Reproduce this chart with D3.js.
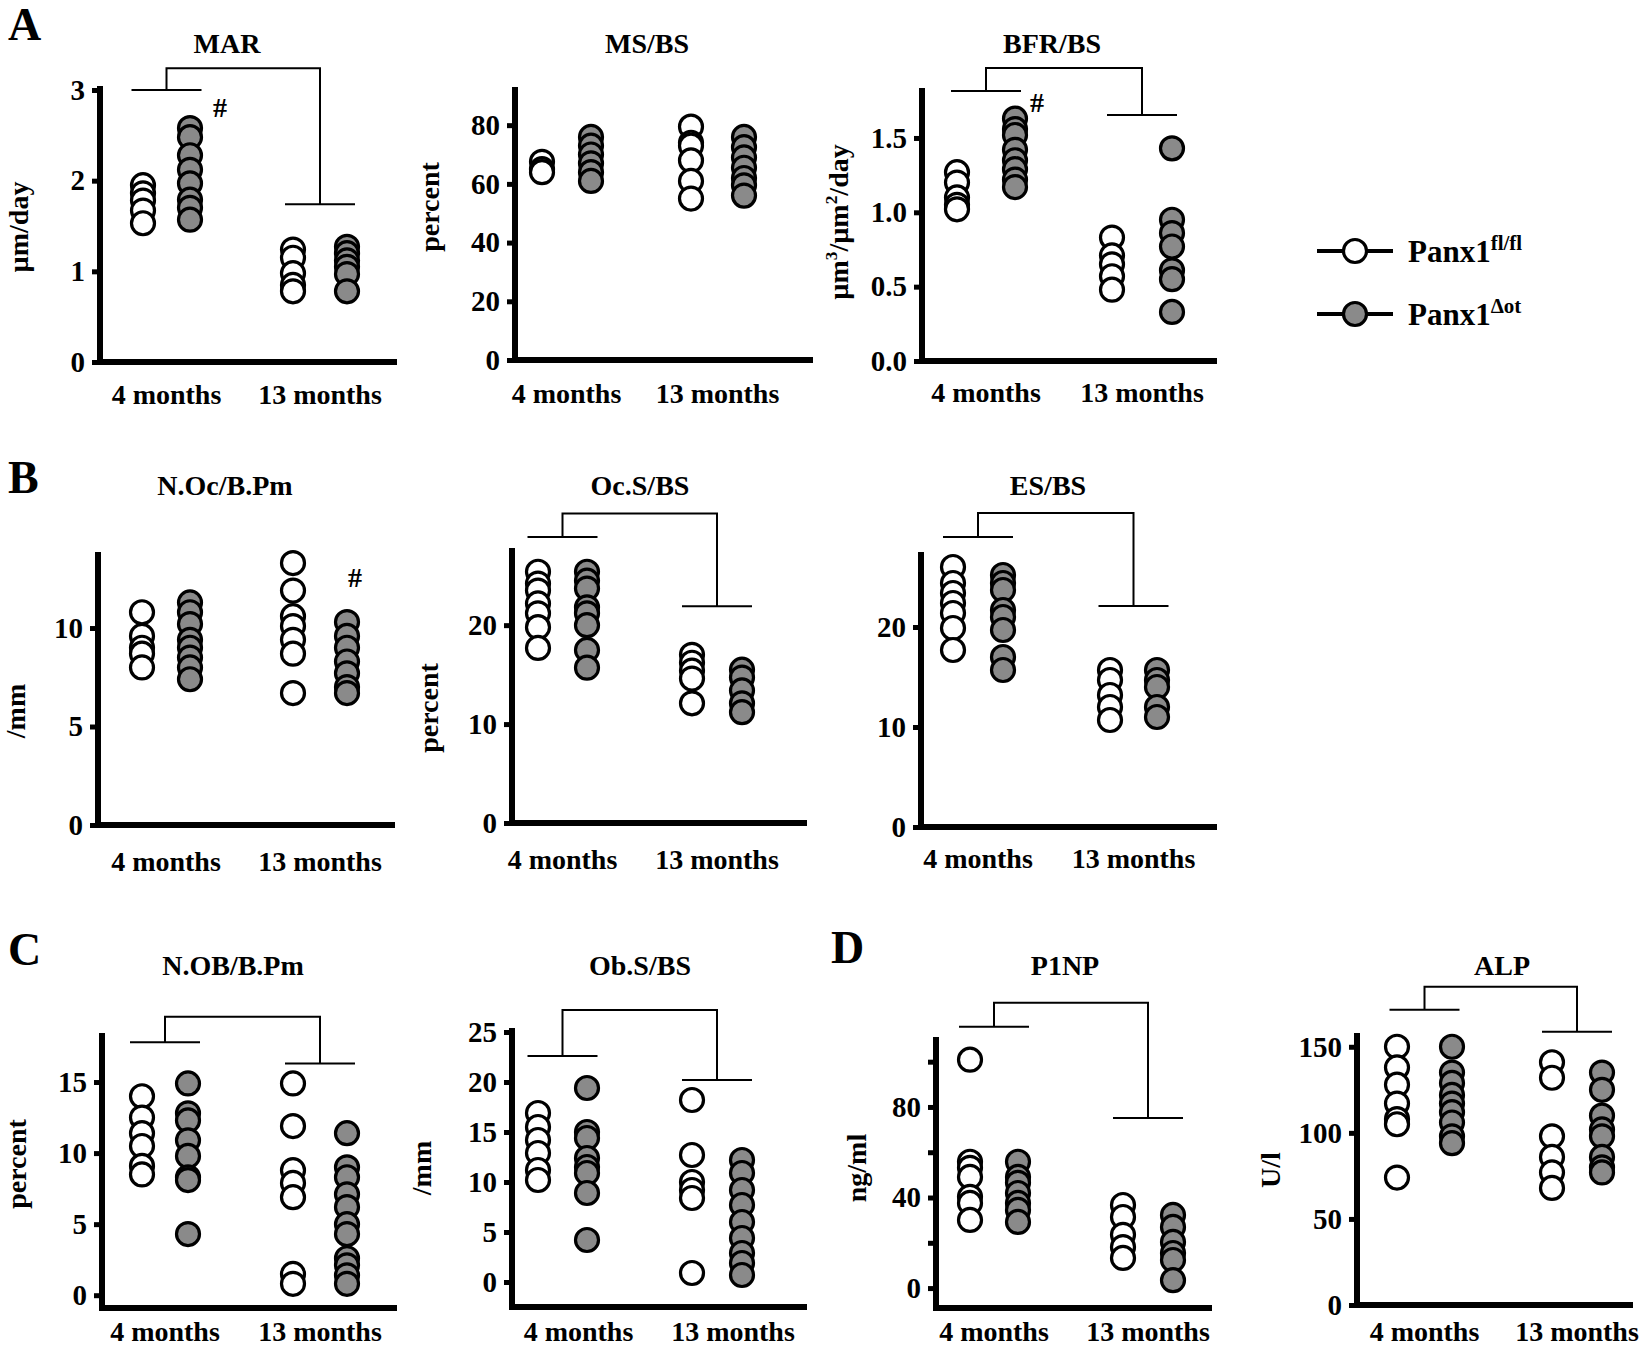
<!DOCTYPE html>
<html><head><meta charset="utf-8">
<script src="https://cdn.jsdelivr.net/npm/d3@7"></script>
<style>
body{margin:0;background:#fff}
text{font-family:'Liberation Serif','Times New Roman',serif;font-weight:bold;fill:#000}
</style>
</head><body><svg id="c" width="1643" height="1347"></svg>
<script>
// ---------- categories / series ----------
const groups = ["4 months", "13 months"];
const seriesNames = ["Panx1", "Panx1"];
const seriesSup = ["fl/fl", "\u0394ot"];
const colKeys = ["fl-4", "ko-4", "fl-13", "ko-13"];

// ---------- values ----------
// MAR (µm/day)
const marFl4 = [1.95, 1.86, 1.78, 1.67, 1.53];
const marKo4 = [2.58, 2.48, 2.28, 2.12, 1.97, 1.79, 1.70, 1.57];
const marFl13 = [1.24, 1.15, 0.98, 0.85, 0.78];
const marKo13 = [1.27, 1.20, 1.12, 1.05, 0.97, 0.78];
const marTicks = [0, 1, 2, 3];
const marTickLabels = ["0", "1", "2", "3"];
// MS/BS (percent)
const msFl4 = [67.5, 65, 64];
const msKo4 = [76, 73, 70, 67, 64, 61];
const msFl13 = [79.5, 74, 73, 68, 61, 55];
const msKo13 = [76, 72.5, 69, 65.5, 62, 59.5, 56];
const msTicks = [0, 20, 40, 60, 80];
const msTickLabels = ["0", "20", "40", "60", "80"];
// BFR/BS (µm3/µm2/day)
const bfrFl4 = [1.27, 1.20, 1.10, 1.05, 1.02];
const bfrKo4 = [1.63, 1.56, 1.52, 1.42, 1.35, 1.29, 1.22, 1.17];
const bfrFl13 = [0.83, 0.71, 0.65, 0.57, 0.48];
const bfrKo13 = [1.43, 0.95, 0.86, 0.77, 0.61, 0.55, 0.33];
const bfrTicks = [0, 0.5, 1.0, 1.5];
const bfrTickLabels = ["0.0", "0.5", "1.0", "1.5"];
// N.Oc/B.Pm (/mm)
const nocFl4 = [10.8, 9.6, 9.0, 8.7, 8.0];
const nocKo4 = [11.3, 10.8, 10.2, 9.4, 9.0, 8.5, 8.0, 7.4];
const nocFl13 = [13.3, 11.9, 10.6, 10.1, 9.4, 8.7, 6.7];
const nocKo13 = [10.3, 9.6, 9.0, 8.3, 7.7, 7.0, 6.7];
const nocTicks = [0, 5, 10];
const nocTickLabels = ["0", "5", "10"];
// Oc.S/BS (percent)
const ocsFl4 = [25.4, 24.2, 23.5, 22.2, 21.2, 19.8, 17.7];
const ocsKo4 = [25.4, 24.5, 23.7, 21.8, 21.2, 20.0, 17.5, 15.7];
const ocsFl13 = [17.0, 16.2, 15.4, 14.6, 12.1];
const ocsKo13 = [15.5, 14.7, 13.4, 12.1, 11.2];
const ocsTicks = [0, 10, 20];
const ocsTickLabels = ["0", "10", "20"];
// ES/BS
const esFl4 = [26.0, 24.4, 23.4, 22.4, 21.4, 19.9, 17.7];
const esKo4 = [25.2, 24.4, 23.7, 21.7, 21.0, 19.7, 17.0, 15.7];
const esFl13 = [15.7, 14.7, 13.2, 12.0, 10.7];
const esKo13 = [15.7, 14.7, 14.0, 12.0, 11.0];
const esTicks = [0, 10, 20];
const esTickLabels = ["0", "10", "20"];
// N.OB/B.Pm (percent)
const nobFl4 = [14.0, 12.5, 11.4, 10.5, 9.1, 8.5];
const nobKo4 = [14.9, 12.8, 12.3, 10.9, 9.8, 8.3, 8.1, 4.3];
const nobFl13 = [14.9, 11.9, 8.8, 7.9, 6.9, 1.5, 0.8];
const nobKo13 = [11.4, 9.0, 8.3, 7.1, 6.2, 5.0, 4.3, 2.6, 2.1, 1.4, 0.8];
const nobTicks = [0, 5, 10, 15];
const nobTickLabels = ["0", "5", "10", "15"];
// Ob.S/BS (/mm)
const obsFl4 = [16.9, 15.5, 14.2, 12.9, 11.2, 10.2];
const obsKo4 = [19.4, 15.0, 14.4, 12.4, 11.5, 10.9, 8.9, 4.2];
const obsFl13 = [18.2, 12.7, 10.0, 9.2, 8.4, 0.9];
const obsKo13 = [12.2, 10.9, 9.2, 7.7, 6.0, 4.4, 2.9, 1.9, 0.7];
const obsTicks = [0, 5, 10, 15, 20, 25];
const obsTickLabels = ["0", "5", "10", "15", "20", "25"];
// P1NP (ng/ml)
const p1Fl4 = [100.9, 55.8, 53.1, 49.1, 40.3, 37.6, 30.1];
const p1Ko4 = [55.8, 49.1, 46.5, 42.0, 37.6, 34.5, 29.2];
const p1Fl13 = [36.7, 31.4, 23.5, 18.1, 13.3];
const p1Ko13 = [32.3, 27.0, 20.4, 15.5, 12.4, 3.5];
const p1Ticks = [0, 20, 40, 60, 80, 100];
const p1TickLabels = ["0", "", "40", "", "80", ""];
// ALP (U/l)
const alpFl4 = [150, 138, 128, 117, 108, 105, 74];
const alpKo4 = [150, 135, 129, 122, 117, 112, 106, 98, 94];
const alpFl13 = [141, 132, 98, 86, 77, 68];
const alpKo13 = [135, 125, 110, 102, 98, 86, 80, 77];
const alpTicks = [0, 50, 100, 150];
const alpTickLabels = ["0", "50", "100", "150"];

// ---------- layout ----------
const panels = [
 {title:"MAR", tx:227, ty:53, yl:[["µm"],["/day"]], ylx:22, yly:227,
  ax:100, right:397, dom:[0,3.044], rng:[362,86], ticks:marTicks, tl:marTickLabels,
  cols:[143,190,293,347], data:[marFl4,marKo4,marFl13,marKo13], lby:404, lbs:0,
  br:{top:3.24,l:3.0,r:1.74}, hash:{col:1,dx:30,v:2.81}},
 {title:"MS/BS", tx:647, ty:53, yl:[["percent"]], ylx:433, yly:207,
  ax:515, right:813, dom:[0,93], rng:[360,87], ticks:msTicks, tl:msTickLabels,
  cols:[542,591,691,744], data:[msFl4,msKo4,msFl13,msKo13], lby:403, lbs:0},
 {title:"BFR/BS", tx:1052, ty:53, yl:[["µm"],["3","s"],["/µm"],["2","s"],["/day"]], ylx:842, yly:222,
  ax:922, right:1217, dom:[0,1.836], rng:[361,88], ticks:bfrTicks, tl:bfrTickLabels,
  cols:[957,1015,1112,1172], data:[bfrFl4,bfrKo4,bfrFl13,bfrKo13], lby:402, lbs:0,
  br:{top:1.97,l:1.816,r:1.655}, hash:{col:1,dx:22,v:1.74}},
 {title:"N.Oc/B.Pm", tx:225, ty:495, yl:[["/mm"]], ylx:19, yly:711,
  ax:98, right:395, dom:[0,13.86], rng:[825,552], ticks:nocTicks, tl:nocTickLabels,
  cols:[142,190,293,347], data:[nocFl4,nocKo4,nocFl13,nocKo13], lby:871, lbs:0,
  hash:{col:3,dx:8,v:12.6}},
 {title:"Oc.S/BS", tx:640, ty:495, yl:[["percent"]], ylx:432, yly:708,
  ax:512, right:807, dom:[0,27.8], rng:[823,548], ticks:ocsTicks, tl:ocsTickLabels,
  cols:[538,587,692,742], data:[ocsFl4,ocsKo4,ocsFl13,ocsKo13], lby:869, lbs:0,
  br:{top:31.3,l:28.9,r:21.9}},
 {title:"ES/BS", tx:1048, ty:495, yl:null,
  ax:921, right:1217, dom:[0,27.5], rng:[827,552], ticks:esTicks, tl:esTickLabels,
  cols:[953,1003,1110,1157], data:[esFl4,esKo4,esFl13,esKo13], lby:868, lbs:0,
  br:{top:31.4,l:29.0,r:22.1}},
 {title:"N.OB/B.Pm", tx:233, ty:975, yl:[["percent"]], ylx:20, yly:1164,
  ax:102, right:397, dom:[-0.9,18.45], rng:[1308,1033], ticks:nobTicks, tl:nobTickLabels,
  cols:[142,188,293,347], data:[nobFl4,nobKo4,nobFl13,nobKo13], lby:1341, lbs:0,
  br:{top:19.6,l:17.8,r:16.3}},
 {title:"Ob.S/BS", tx:640, ty:975, yl:[["/mm"]], ylx:425, yly:1168,
  ax:512, right:807, dom:[-2.5,25.4], rng:[1307,1028], ticks:obsTicks, tl:obsTickLabels,
  cols:[538,587,692,742], data:[obsFl4,obsKo4,obsFl13,obsKo13], lby:1341, lbs:16,
  br:{top:27.2,l:22.6,r:20.2}},
 {title:"P1NP", tx:1065, ty:975, yl:[["ng/ml"]], ylx:860, yly:1168,
  ax:936, right:1212, dom:[-8.8,110.9], rng:[1308,1037], ticks:p1Ticks, tl:p1TickLabels,
  cols:[970,1018,1123,1173], data:[p1Fl4,p1Ko4,p1Fl13,p1Ko13], lby:1341, lbs:0,
  br:{top:126,l:115.4,r:75.1}},
 {title:"ALP", tx:1502, ty:975, yl:[["U/l"]], ylx:1274, yly:1170,
  ax:1357, right:1633, dom:[0,158], rng:[1305,1033], ticks:alpTicks, tl:alpTickLabels,
  cols:[1397,1452,1552,1602], data:[alpFl4,alpKo4,alpFl13,alpKo13], lby:1341, lbs:0,
  br:{top:184.9,l:171.5,r:158.7}}
];
const letters = [["A",8,40],["B",8,493],["C",8,965],["D",831,963]];
const FONT = 28, TICKFONT = 29, R = 11.5, GRAY = "#8a8a8a";
const fills = ["#fff", GRAY, "#fff", GRAY];

const svg = d3.select("#c");
svg.append("rect").attr("width",1643).attr("height",1347).attr("fill","#fff");

letters.forEach(([t,x,y]) => svg.append("text").attr("x",x).attr("y",y)
  .attr("font-size",46).text(t));

function richText(sel, parts, size, supSize) {
  let raised = false;
  parts.forEach(p => {
    const ts = sel.append("tspan").text(p[0]);
    if (p[1] === "s") { ts.attr("font-size", supSize || size*0.62).attr("dy", -size*0.38); raised = true; }
    else { ts.attr("font-size", size); if (raised) { ts.attr("dy", size*0.38); raised = false; } }
  });
}

panels.forEach(p => {
  const g = svg.append("g");
  const y = d3.scaleLinear().domain(p.dom).range(p.rng);
  const x = d3.scaleOrdinal().domain(colKeys).range(p.cols);
  const bottom = p.rng[0];

  // y axis
  const yAxis = d3.axisLeft(y).tickValues(p.ticks)
     .tickFormat((d,i) => p.tl[i]).tickSize(8).tickSizeOuter(0).tickPadding(7);
  const ag = g.append("g").attr("transform",`translate(${p.ax},0)`).call(yAxis);
  ag.select(".domain").attr("stroke","#000").attr("stroke-width",6)
    .attr("d", `M0,${bottom}V${p.rng[1]}`);
  ag.selectAll(".tick line").attr("stroke","#000").attr("stroke-width",5);
  ag.selectAll(".tick text").attr("font-size",TICKFONT).attr("fill","#000")
    .attr("font-family","'Liberation Serif',serif").attr("font-weight","bold");

  // x axis line
  g.append("line").attr("x1",p.ax-3).attr("x2",p.right).attr("y1",bottom).attr("y2",bottom)
    .attr("stroke","#000").attr("stroke-width",6);

  // group labels
  groups.forEach((gname,i) => {
    const mid = (x(colKeys[2*i]) + x(colKeys[2*i+1]))/2 + p.lbs;
    g.append("text").attr("x",mid).attr("y",p.lby).attr("text-anchor","middle")
      .attr("font-size",FONT).text(gname);
  });

  // title
  g.append("text").attr("x",p.tx).attr("y",p.ty).attr("text-anchor","middle")
    .attr("font-size",FONT).text(p.title);

  // y label
  if (p.yl) {
    const t = g.append("text").attr("transform",`translate(${p.ylx},${p.yly}) rotate(-90)`)
      .attr("text-anchor","middle").attr("dy","0.35em");
    richText(t, p.yl, FONT);
  }

  // brackets
  if (p.br) {
    const mL = (x(colKeys[0]) + x(colKeys[1]))/2, mR = (x(colKeys[2]) + x(colKeys[3]))/2;
    const path = d3.path();
    path.moveTo(mL, y(p.br.l)); path.lineTo(mL, y(p.br.top)); path.lineTo(mR, y(p.br.top)); path.lineTo(mR, y(p.br.r));
    path.moveTo(mL-35, y(p.br.l)); path.lineTo(mL+35, y(p.br.l));
    path.moveTo(mR-35, y(p.br.r)); path.lineTo(mR+35, y(p.br.r));
    g.append("path").attr("d", path.toString()).attr("fill","none")
      .attr("stroke","#000").attr("stroke-width",2);
  }
  if (p.hash) {
    g.append("text").attr("x", x(colKeys[p.hash.col]) + p.hash.dx).attr("y", y(p.hash.v))
      .attr("dy","0.35em").attr("text-anchor","middle").attr("font-size",FONT).text("#");
  }

  // points
  p.data.forEach((vals, ci) => {
    g.append("g").selectAll("circle").data(vals).join("circle")
      .attr("cx", x(colKeys[ci])).attr("cy", d => y(d)).attr("r", R)
      .attr("fill", fills[ci]).attr("stroke","#000").attr("stroke-width",3.2);
  });
});

// legend
const legY = [251, 314];
seriesNames.forEach((nm,i) => {
  const lg = svg.append("g");
  lg.append("line").attr("x1",1317).attr("x2",1393).attr("y1",legY[i]).attr("y2",legY[i])
    .attr("stroke","#000").attr("stroke-width",4);
  lg.append("circle").attr("cx",1355).attr("cy",legY[i]).attr("r",R)
    .attr("fill", i===0 ? "#fff" : GRAY).attr("stroke","#000").attr("stroke-width",3.2);
  const t = lg.append("text").attr("x",1408).attr("y",legY[i]+11);
  richText(t, [[nm],[seriesSup[i],"s"]], 31, 21);
});
</script></body></html>
